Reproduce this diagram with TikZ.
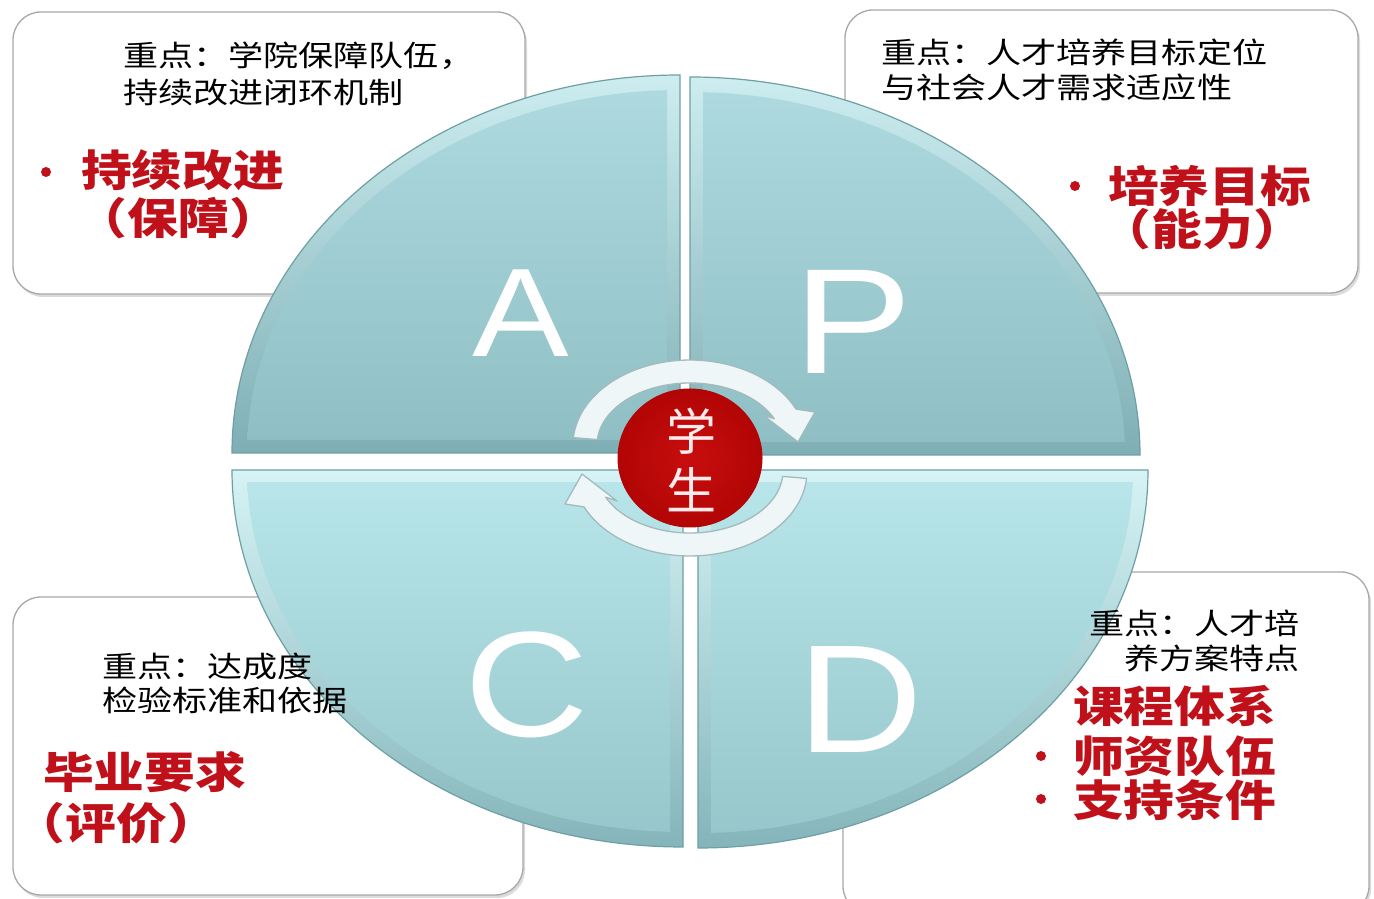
\documentclass[tikz,border=0pt]{standalone}
\usepackage{graphicx}
\usepackage{fontspec}
\newfontfamily\cjk{Noto Sans CJK SC}
\newfontfamily\cjkr[RawFeature=+halt]{Noto Sans CJK SC}
\newfontfamily\lat{Liberation Sans}
\usetikzlibrary{shapes.geometric}
\definecolor{bevTa}{HTML}{CDEDF0}
\definecolor{bevBa}{HTML}{7EAFB4}
\definecolor{inTa}{HTML}{ADD9DF}
\definecolor{inBa}{HTML}{8FBFC4}
\definecolor{bevTb}{HTML}{D6F3F5}
\definecolor{bevBb}{HTML}{84B5BA}
\definecolor{inTb}{HTML}{B7E5E9}
\definecolor{inBb}{HTML}{97C7CB}
\definecolor{rim}{HTML}{6E9FA5}
\definecolor{redtxt}{HTML}{C0101A}
\definecolor{boxline}{HTML}{A8A8A8}
\definecolor{redA}{HTML}{C80E0E}
\definecolor{redB}{HTML}{B20505}
\definecolor{arrowfill}{HTML}{EEF6F7}
\definecolor{arrowline}{HTML}{A3BABE}
\newcommand\wblk[1]{\scalebox{1.21}[1]{#1}}
\newcommand\wred[1]{\scalebox{1.18}[1]{#1}}
\begin{document}
\begin{tikzpicture}[x=1pt,y=1pt,
  box/.style={draw=boxline, line width=1.3pt, fill=white, rounded corners=28pt},
  boxshadow/.style={fill=black!14, rounded corners=28pt},
  blk/.style={inner sep=0pt, font=\cjk\fontsize{29}{32}\selectfont, text=black},
  redt/.style={inner sep=0pt, font=\cjkr\bfseries\fontsize{43}{46}\selectfont, text=redtxt},
  letter/.style={inner sep=0pt, text=white},
  arrowband/.style={fill=arrowfill, draw=arrowline, line width=1.3pt, line join=round},
  quadline/.style={draw=rim, line width=1.2pt}
]
\useasboundingbox (0,0) rectangle (1374,899);
\clip (0,0) rectangle (1374,899);
\fill[white] (0,0) rectangle (1374,899);

% ---- corner boxes
\fill[boxshadow] (15,602) rectangle (527,884);
\draw[box] (13,605) rectangle (525,887);
\fill[boxshadow] (847,603) rectangle (1360,886);
\draw[box] (845,606) rectangle (1358,889);
\fill[boxshadow] (15,1) rectangle (525,299);
\draw[box] (13,4) rectangle (523,302);
\fill[boxshadow] (845,-18) rectangle (1371,324);
\draw[box] (843,-15) rectangle (1369,327);

% ---- quadrant A (top left)
\begin{scope}[shift={(680,446)}, xscale=-1]
  \shade[top color=bevTa, bottom color=bevBa] (0,0) -- (448,0) arc[start angle=0,end angle=90,x radius=448,y radius=378] -- cycle;
  \begin{scope}
    \clip (13,13) rectangle (460,400);
    \clip (0,0) ellipse [x radius=433, y radius=363];
    \shade[top color=inTa, bottom color=inBa] (13,13) rectangle (433,363);
  \end{scope}
  \draw[quadline] (0,0) -- (448,0) arc[start angle=0,end angle=90,x radius=448,y radius=378] -- cycle;
\end{scope}
% ---- quadrant P (top right)
\begin{scope}[shift={(690,444)}]
  \shade[top color=bevTa, bottom color=bevBa] (0,0) -- (450,0) arc[start angle=0,end angle=90,x radius=450,y radius=378] -- cycle;
  \begin{scope}
    \clip (13,13) rectangle (460,400);
    \clip (0,0) ellipse [x radius=435, y radius=363];
    \shade[top color=inTa, bottom color=inBa] (13,13) rectangle (435,363);
  \end{scope}
  \draw[quadline] (0,0) -- (450,0) arc[start angle=0,end angle=90,x radius=450,y radius=378] -- cycle;
\end{scope}
% ---- quadrant C (bottom left)
\begin{scope}[shift={(683,429)}, xscale=-1, yscale=-1]
  \shade[top color=bevTb, bottom color=bevBb] (0,0) -- (451,0) arc[start angle=0,end angle=90,x radius=451,y radius=377] -- cycle;
  \begin{scope}
    \clip (13,13) rectangle (460,400);
    \clip (0,0) ellipse [x radius=436, y radius=362];
    \shade[top color=inTb, bottom color=inBb] (13,13) rectangle (436,362);
  \end{scope}
  \draw[quadline] (0,0) -- (451,0) arc[start angle=0,end angle=90,x radius=451,y radius=377] -- cycle;
\end{scope}
% ---- quadrant D (bottom right)
\begin{scope}[shift={(698,429)}, yscale=-1]
  \shade[top color=bevTb, bottom color=bevBb] (0,0) -- (450,0) arc[start angle=0,end angle=90,x radius=450,y radius=378] -- cycle;
  \begin{scope}
    \clip (13,13) rectangle (460,400);
    \clip (0,0) ellipse [x radius=435, y radius=363];
    \shade[top color=inTb, bottom color=inBb] (13,13) rectangle (435,363);
  \end{scope}
  \draw[quadline] (0,0) -- (450,0) arc[start angle=0,end angle=90,x radius=450,y radius=378] -- cycle;
\end{scope}

% ---- letters
\node[letter, font=\lat\fontsize{126}{126}\selectfont] (lA) at (521,586) {\scalebox{1.15}[1]{A}};
\node[letter, font=\lat\fontsize{150}{150}\selectfont] (lP) at (853,577) {\scalebox{1.19}[1]{P}};
\node[letter, font=\lat\fontsize{150}{150}\selectfont] (lC) at (527,214) {\scalebox{1.15}[1]{C}};
\node[letter, font=\lat\fontsize{154}{154}\selectfont] (lD) at (860,199) {\scalebox{1.13}[1]{D}};

% ---- cycle arrows
\filldraw[arrowband] (573.4,461.4) arc[start angle=175, end angle=25, x radius=117, y radius=85]
  -- (815,487) -- (798,457) -- (763,484) -- (774.3,480.2)
  arc[start angle=25, end angle=175, x radius=93, y radius=62] -- cycle;
\begin{scope}[rotate around={180:(690,441)}]
\filldraw[arrowband] (573.4,461.4) arc[start angle=175, end angle=25, x radius=117, y radius=85]
  -- (815,487) -- (798,457) -- (763,484) -- (774.3,480.2)
  arc[start angle=25, end angle=175, x radius=93, y radius=62] -- cycle;
\end{scope}

% ---- centre
\node[ellipse, minimum width=144pt, minimum height=138pt, inner color=redA, outer color=redB, draw=redB, line width=1pt] (stu) at (690,441) {};
\node[inner sep=0pt, text=white!92!red, font=\cjk\fontsize{50}{50}\selectfont] (xue) at (691,468) {学};
\node[inner sep=0pt, text=white!92!red, font=\cjk\fontsize{50}{50}\selectfont] (sheng) at (691,409) {生};

% ---- black notes
\node[blk, anchor=base west] (tl1) at (123,832) {\wblk{重点：学院保障队伍，}};
\node[blk, anchor=base west] (tl2) at (123,795) {\wblk{持续改进闭环机制}};
\node[blk, anchor=base west] (tr1) at (881,835) {\wblk{重点：人才培养目标定位}};
\node[blk, anchor=base west] (tr2) at (881,800) {\wblk{与社会人才需求适应性}};
\node[blk, anchor=base west] (bl1) at (102,221) {\wblk{重点：达成度}};
\node[blk, anchor=base west] (bl2) at (102,187) {\wblk{检验标准和依据}};
\node[blk, anchor=base east] (br1) at (1300,264) {\wblk{重点：人才培}};
\node[blk, anchor=base east] (br2) at (1300,229) {\wblk{养方案特点}};

% ---- red items
\fill[redtxt] (46,727) circle (5);
\node[redt, anchor=base west] (rtl1) at (81,712) {\wred{持续改进}};
\node[redt, anchor=base west] (rtl2) at (102,664) {\wred{（保障）}};
\fill[redtxt] (1075,713) circle (5);
\node[redt, anchor=base west] (rtr1) at (1108,696) {\wred{培养目标}};
\node[redt, anchor=base west] (rtr2) at (1126,653) {\wred{（能力）}};
\node[redt, anchor=base west] (rbl1) at (43,110) {\wred{毕业要求}};
\node[redt, anchor=base west] (rbl2) at (40,59) {\wred{（评价）}};
\node[redt, anchor=base west] (rbr1) at (1073,176) {\wred{课程体系}};
\fill[redtxt] (1041,143) circle (5);
\node[redt, anchor=base west] (rbr2) at (1073,126) {\wred{师资队伍}};
\fill[redtxt] (1041,100) circle (5);
\node[redt, anchor=base west] (rbr3) at (1073,82) {\wred{支持条件}};
\end{tikzpicture}
\end{document}
